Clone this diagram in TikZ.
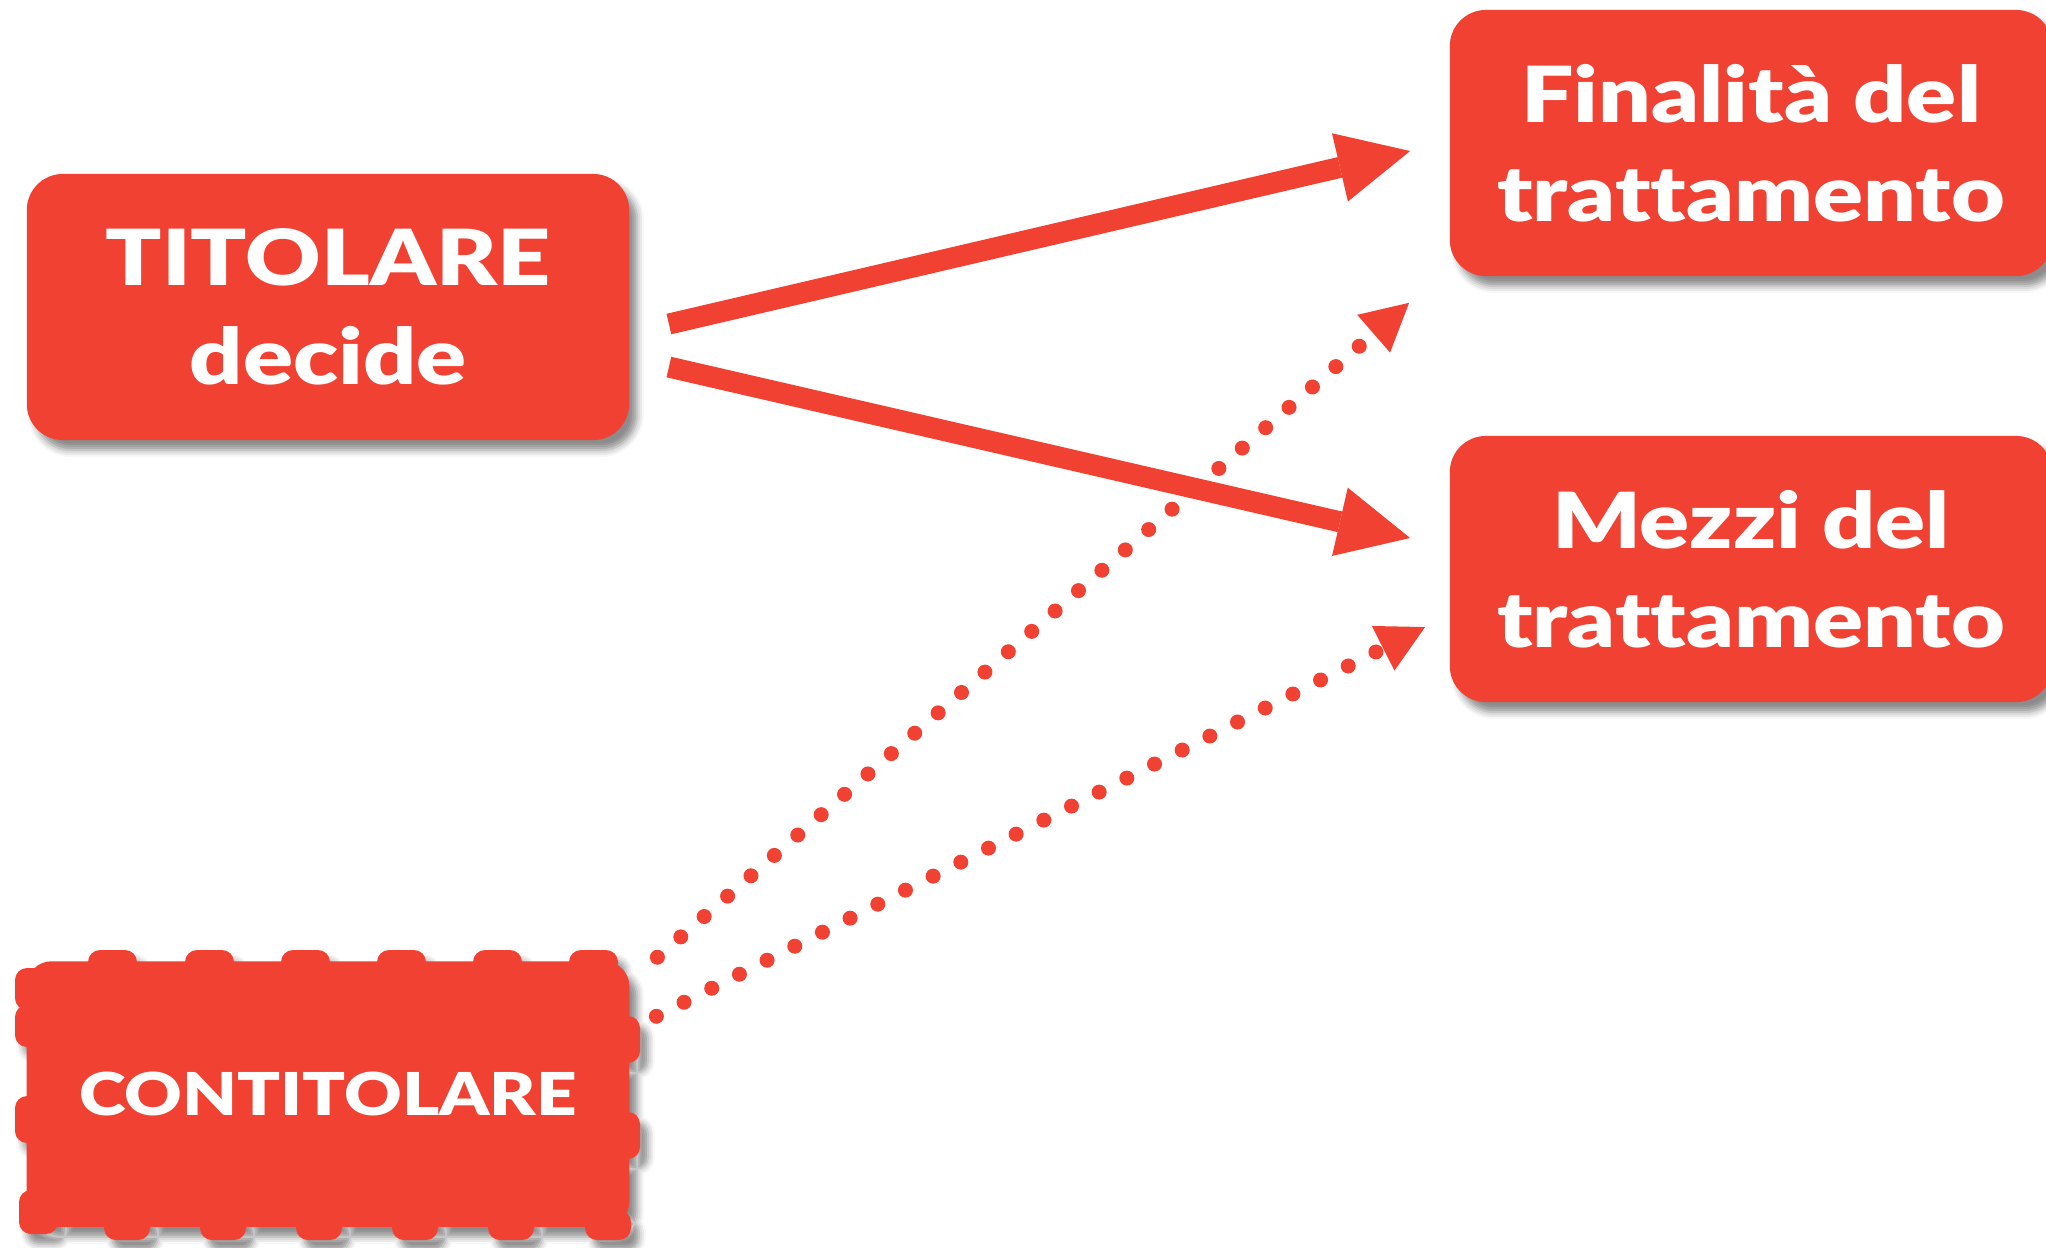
\documentclass[tikz,border=0pt]{standalone}
\usepackage{fontspec}
\newfontfamily\boxfont{Lato Black}[FakeStretch=1.2, Ligatures=NoCommon]
\usetikzlibrary{arrows.meta,shadows.blur,backgrounds}
\definecolor{boxred}{HTML}{F14133}

\begin{document}
\begin{tikzpicture}[x=0.01cm, y=-0.01cm, >={Triangle[length=0.72cm, width=0.70cm, line width=0pt]}]

    \tikzset{%
    box shadow/.style={
        blur shadow={shadow xshift=0.08cm, shadow yshift=-0.10cm,
            shadow blur radius=0.07cm, shadow opacity=45}
        },
    every role/.style={
        fill=boxred,
        rounded corners=0.36cm,
        box shadow,
        text=white,
        align=center,
        font=\boxfont\fontsize{22}{28}\selectfont,
        minimum width=6.02cm,
        minimum height=2.66cm
        },
    joint role/.style={
        text=white,
        font=\boxfont\fontsize{16.8}{20}\selectfont,
        minimum width=6.01cm,
        minimum height=2.64cm
        },
    solid link/.style={boxred, line width=0.21cm, ->},
    dotted link/.style={
        boxred,
        line width=0.15cm,
        line cap=round,
        dash pattern=on 0pt off 0.31cm,
        -{Triangle[length=0.47cm, width=0.50cm, line width=0pt]}
        },
    }

    \useasboundingbox (0,0) rectangle (2046,1247);

    % Boxes of the roles
    \node [every role] (titolare) at (328,307) {TITOLARE\\decide};
    \node [every role] (finalita) at (1751,143) {Finalità del\\trattamento};
    \node [every role] (mezzi) at (1751,569) {Mezzi del\\trattamento};
    \node [joint role] (contitolare) at (328,1094) {CONTITOLARE};

    % Bumpy outline behind the joint controller
    \begin{scope}[on background layer]
    \fill [boxred, box shadow]
        [rounded corners=0.25cm] (contitolare.north west) rectangle (contitolare.south east)
        [rounded corners=0.12cm]
        \foreach \x in {88,185,281,377,473,569} { (\x,950) rectangle (\x+49,975) }
        \foreach \x in {104,200,296,392,488,585} { (\x,1210) rectangle (\x+46,1240) }
        (15,968) rectangle (48,1010)
        (15,1005) rectangle (40,1047)
        (15,1096) rectangle (40,1143)
        (19,1190) rectangle (58,1234)
        (612,1016) rectangle (640,1063)
        (612,1112) rectangle (640,1159);
    \end{scope}

    % Decisions of the controller
    \draw [solid link] ([xshift=0.39cm, yshift=-0.17cm]titolare.east)
        -- ([xshift=-0.39cm, yshift=-0.08cm]finalita.west);
    \draw [solid link] ([xshift=0.39cm, yshift=-0.60cm]titolare.east)
        -- ([xshift=-0.39cm, yshift=0.31cm]mezzi.west);

    % Decisions of the joint controller
    \draw [dotted link] ([xshift=0.28cm, yshift=0.04cm]contitolare.north east)
        -- ([xshift=-0.40cm, yshift=-0.26cm]finalita.south west);
    \draw [dotted link] ([xshift=0.27cm, yshift=-0.55cm]contitolare.north east)
        -- ([xshift=-0.24cm, yshift=-0.58cm]mezzi.west);

\end{tikzpicture}
\end{document}
